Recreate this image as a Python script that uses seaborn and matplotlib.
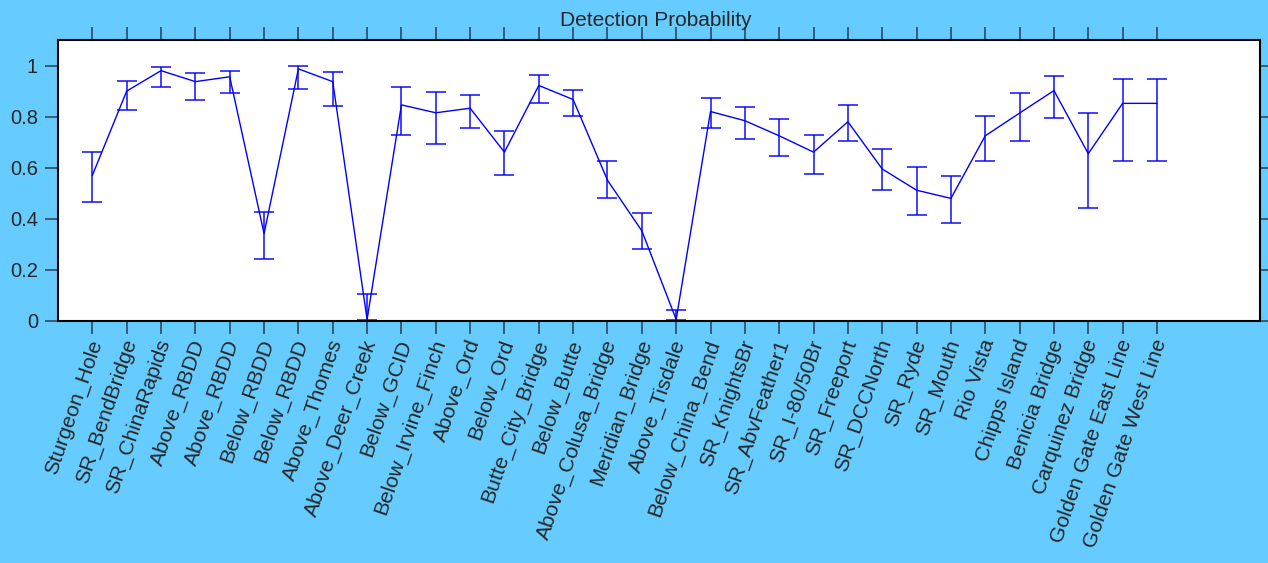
import numpy as np
import pandas as pd
import matplotlib
matplotlib.use("Agg")
import matplotlib.pyplot as plt
import matplotlib.transforms as mtransforms
import seaborn as sns

sites = ["Sturgeon_Hole", "SR_BendBridge", "SR_ChinaRapids", "Above_RBDD", "Above_RBDD",
         "Below_RBDD", "Below_RBDD", "Above_Thomes", "Above_Deer_Creek", "Below_GCID",
         "Below_Irvine_Finch", "Above_Ord", "Below_Ord", "Butte_City_Bridge", "Below_Butte",
         "Above_Colusa_Bridge", "Meridian_Bridge", "Above_Tisdale", "Below_China_Bend",
         "SR_KnightsBr", "SR_AbvFeather1", "SR_I-80/50Br", "SR_Freeport", "SR_DCCNorth",
         "SR_Ryde", "SR_Mouth", "Rio Vista", "Chipps Island", "Benicia Bridge",
         "Carquinez Bridge", "Golden Gate East Line", "Golden Gate West Line"]
prob = [0.570, 0.900, 0.980, 0.937, 0.956, 0.342, 0.987, 0.937, 0.006, 0.846,
        0.815, 0.833, 0.661, 0.922, 0.867, 0.551, 0.353, 0.006, 0.820, 0.784,
        0.725, 0.661, 0.780, 0.595, 0.512, 0.480, 0.725, 0.814, 0.902, 0.655,
        0.852, 0.852]
upper = [0.660, 0.941, 0.993, 0.969, 0.980, 0.428, 1.000, 0.975, 0.107, 0.917,
         0.897, 0.884, 0.743, 0.962, 0.904, 0.628, 0.422, 0.044, 0.871, 0.838,
         0.789, 0.730, 0.845, 0.672, 0.602, 0.569, 0.801, 0.891, 0.961, 0.814,
         0.949, 0.949]
lower = [0.467, 0.827, 0.917, 0.866, 0.891, 0.242, 0.910, 0.840, 0.004, 0.730,
         0.691, 0.756, 0.570, 0.853, 0.801, 0.480, 0.281, 0.004, 0.756, 0.711,
         0.647, 0.577, 0.704, 0.512, 0.415, 0.384, 0.628, 0.704, 0.794, 0.441,
         0.628, 0.628]

df = pd.DataFrame({"idx": np.arange(len(sites)), "site": sites, "p": prob,
                   "lo": lower, "hi": upper})

sns.set_style("white")
plt.rcParams['font.family'] = ['Liberation Sans', 'DejaVu Sans']

fig = plt.figure(figsize=(12.68, 5.63), dpi=100, facecolor="#66CCFF")
ax = fig.add_axes([58 / 1268, 1 - 321 / 563, (1260 - 58) / 1268, (321 - 40) / 563])
ax.set_facecolor("white")

sns.lineplot(data=df, x="idx", y="p", ax=ax, color="#0000FF", linewidth=1.0,
             errorbar=None, sort=False)
ax.errorbar(df["idx"], df["p"], yerr=[df["p"] - df["lo"], df["hi"] - df["p"]],
            fmt="none", ecolor="#0000FF", elinewidth=1.3, capsize=7.5, capthick=1.3,
            alpha=0.8)

ax.set_xlim(-1, 34)
ax.set_ylim(0, 1.1)
ax.set_xticks(df["idx"])
ax.set_xticklabels(sites, rotation=71, ha="right", rotation_mode="anchor",
                   fontsize=15.2)
ax.set_yticks([0, 0.2, 0.4, 0.6, 0.8, 1.0])
ax.set_yticklabels(["0", "0.2", "0.4", "0.6", "0.8", "1"], fontsize=14.5)
ax.set_xlabel("")
ax.set_ylabel("")
ax.tick_params(axis="both", which="both", direction="out", length=9.4, width=1.1,
               color="#2a3f4f", top=True, right=True, bottom=True, left=True,
               labeltop=False, labelright=False)
ax.tick_params(axis="x", pad=3.5)
ax.tick_params(axis="y", pad=5)
shift = mtransforms.ScaledTranslation(-5 / 100, 2 / 100, fig.dpi_scale_trans)
for lab in ax.get_xticklabels():
    lab.set_transform(lab.get_transform() + shift)
for s in ax.spines.values():
    s.set_visible(True)
    s.set_color("black")
    s.set_linewidth(1.5)

fig.text(655.5 / 1268, 1 - 20.5 / 563, "Detection Probability", ha="center",
         va="center", fontsize=15)

fig.savefig("out.png", dpi=100, facecolor=fig.get_facecolor())
